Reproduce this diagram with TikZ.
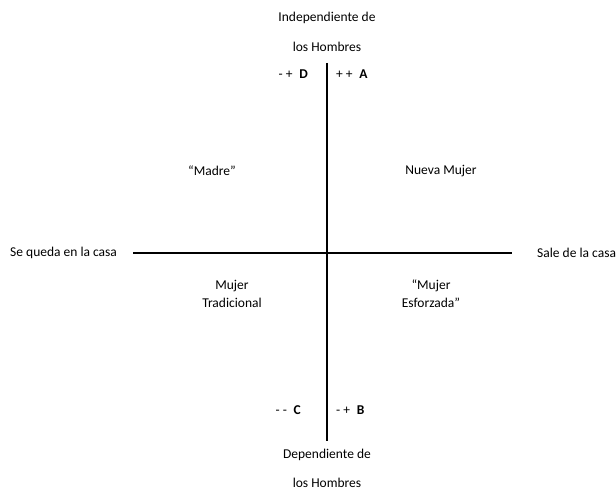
\documentclass[tikz,border=0pt]{standalone}
\usepackage{fontspec}
\setmainfont{Carlito}

\begin{document}
\begin{tikzpicture}[x=1pt,y=-1pt,
    lbl/.style={font=\fontsize{13.5}{18}\selectfont, inner sep=0pt},
    axis/.style={line width=1.6pt}]
% Canvas
\useasboundingbox (0,0) rectangle (616,494);

% Axis ends
\coordinate (top) at (327,63);
\coordinate (bot) at (327,441);
\coordinate (lft) at (133,253);
\coordinate (rgt) at (512,253);

% Axes
\draw[axis] (top) -- (bot);
\draw[axis] (lft) -- (rgt);

% Axis labels
\node[lbl] (indep1) at (327,18) {Independiente de};
\node[lbl] (indep2) at (327,47) {los Hombres};
\node[lbl] (dep1) at (327,455) {Dependiente de};
\node[lbl] (dep2) at (327,483) {los Hombres};
\node[lbl,anchor=west] (casa) at (10,253) {Se queda en la casa};
\node[lbl,anchor=west] (sale) at (537,253) {Sale de la casa};

% Corner letters
\node[lbl,anchor=east] (D) at (308,74) {- +\enspace\textbf{D}};
\node[lbl,anchor=west] (A) at (336,74) {+ +\enspace\textbf{A}};
\node[lbl,anchor=east] (C) at (301,410) {- -\enspace\textbf{C}};
\node[lbl,anchor=west] (B) at (336,410) {- +\enspace\textbf{B}};

% Quadrant names
\node[lbl] (madre) at (212,171) {“Madre”};
\node[lbl] (nueva) at (441,171) {Nueva Mujer};
\node[lbl,align=center] (trad) at (232,294) {Mujer\\Tradicional};
\node[lbl,align=center] (esf) at (431,294) {“Mujer\\Esforzada”};
\end{tikzpicture}
\end{document}
